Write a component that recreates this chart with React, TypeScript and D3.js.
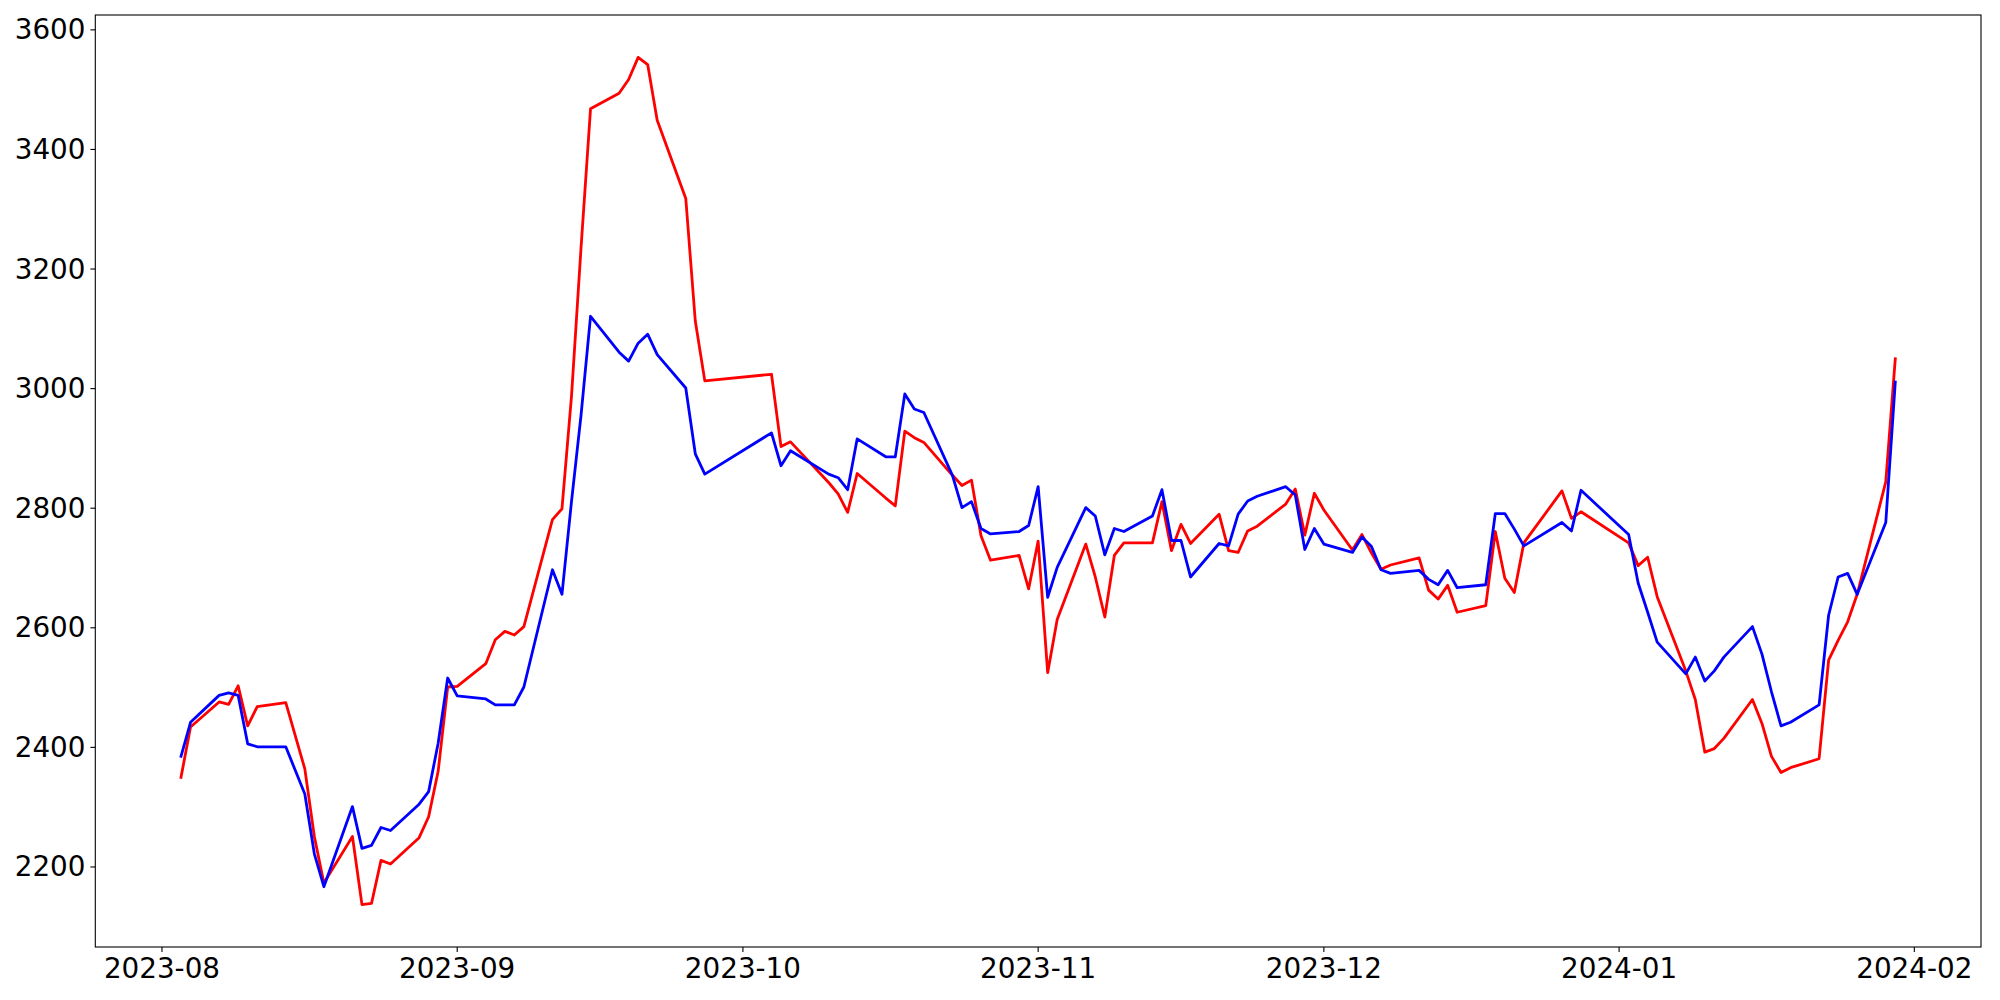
import React from "react";
import * as d3 from "d3";

// Trading days (Aug 2023 – Jan 2024)
const dates: string[] = [
  "2023-08-03","2023-08-04","2023-08-07","2023-08-08","2023-08-09","2023-08-10","2023-08-11","2023-08-14","2023-08-16","2023-08-17","2023-08-18","2023-08-21","2023-08-22","2023-08-23","2023-08-24","2023-08-25","2023-08-28","2023-08-29","2023-08-30","2023-08-31",
  "2023-09-01","2023-09-04","2023-09-05","2023-09-06","2023-09-07","2023-09-08","2023-09-11","2023-09-12","2023-09-13","2023-09-14","2023-09-15","2023-09-18","2023-09-19","2023-09-20","2023-09-21","2023-09-22","2023-09-25","2023-09-26","2023-09-27",
  "2023-10-04","2023-10-05","2023-10-06","2023-10-10","2023-10-11","2023-10-12","2023-10-13","2023-10-16","2023-10-17","2023-10-18","2023-10-19","2023-10-20","2023-10-23","2023-10-24","2023-10-25","2023-10-26","2023-10-27","2023-10-30","2023-10-31",
  "2023-11-01","2023-11-02","2023-11-03","2023-11-06","2023-11-07","2023-11-08","2023-11-09","2023-11-10","2023-11-13","2023-11-14","2023-11-15","2023-11-16","2023-11-17","2023-11-20","2023-11-21","2023-11-22","2023-11-23","2023-11-24","2023-11-27","2023-11-28","2023-11-29","2023-11-30",
  "2023-12-01","2023-12-04","2023-12-05","2023-12-06","2023-12-07","2023-12-08","2023-12-11","2023-12-12","2023-12-13","2023-12-14","2023-12-15","2023-12-18","2023-12-19","2023-12-20","2023-12-21","2023-12-22","2023-12-26","2023-12-27","2023-12-28",
  "2024-01-02","2024-01-03","2024-01-04","2024-01-05","2024-01-08","2024-01-09","2024-01-10","2024-01-11","2024-01-12","2024-01-15","2024-01-16","2024-01-17","2024-01-18","2024-01-19","2024-01-22","2024-01-23","2024-01-24","2024-01-25","2024-01-26","2024-01-29","2024-01-30",
];

const redValues: number[] = [
  2350,2434,2476,2472,2503,2436,2468,2475,2364,2251,2173,2251,2137,2139,2211,2205,2249,2284,2360,2501,
  2502,2540,2580,2594,2588,2602,2781,2799,2987,3235,3468,3494,3517,3554,3542,3449,3318,3113,3013,
  3024,2903,2911,2843,2824,2793,2858,2817,2804,2929,2918,2910,2855,2838,2847,2754,2713,2721,2665,
  2745,2525,2614,2740,2685,2618,2721,2742,2742,2811,2729,2773,2741,2790,2729,2726,2762,2770,2807,2832,2755,2825,
  2797,2730,2756,2725,2698,2705,2717,2663,2648,2671,2626,2637,2761,2683,2659,2742,2829,2783,2794,
  2742,2704,2718,2652,2528,2480,2392,2398,2415,2480,2440,2385,2358,2366,2381,2546,2579,2610,2656,2844,3050,
];

const blueValues: number[] = [
  2385,2442,2487,2491,2487,2406,2401,2401,2322,2222,2167,2301,2231,2236,2266,2261,2305,2326,2407,2516,
  2486,2481,2471,2471,2471,2501,2697,2656,2811,2955,3121,3061,3046,3076,3091,3057,3001,2891,2857,
  2926,2871,2896,2857,2851,2831,2916,2886,2886,2991,2966,2960,2855,2801,2811,2766,2757,2761,2771,
  2836,2651,2701,2801,2787,2722,2766,2761,2787,2831,2746,2746,2685,2741,2737,2790,2812,2820,2836,2822,2731,2766,
  2740,2726,2752,2736,2697,2691,2696,2681,2672,2696,2667,2672,2791,2791,2765,2737,2776,2762,2830,
  2756,2675,2626,2576,2523,2551,2511,2528,2551,2602,2556,2493,2436,2442,2471,2621,2685,2691,2656,2776,3011,
];

const yTicks: number[] = [2200, 2400, 2600, 2800, 3000, 3200, 3400, 3600];

const W = 2000;
const H = 1000;
const M = { left: 95.3, right: 1981, top: 15, bottom: 947 };
const FONT = "DejaVu Sans";
const FS = 27.8;

export default function App() {
  const parse = d3.utcParse("%Y-%m-%d");
  const xs = dates.map((d) => parse(d) as Date);
  const [x0, x1] = d3.extent(xs) as [Date, Date];
  const xPad = (x1.getTime() - x0.getTime()) * 0.05;
  const x = d3
    .scaleUtc()
    .domain([new Date(x0.getTime() - xPad), new Date(x1.getTime() + xPad)])
    .range([M.left, M.right]);

  const all = redValues.concat(blueValues);
  const yMin = d3.min(all) as number;
  const yMax = d3.max(all) as number;
  const yPad = (yMax - yMin) * 0.05;
  const y = d3
    .scaleLinear()
    .domain([yMin - yPad, yMax + yPad])
    .range([M.bottom, M.top]);

  const line = d3
    .line<number>()
    .x((_, i) => x(xs[i]))
    .y((v) => y(v));

  const xTicks = x.ticks(d3.utcMonth.every(1) as any);
  const fmt = d3.utcFormat("%Y-%m");

  return (
    <svg
      width={W}
      height={H}
      style={{ position: "absolute", left: 0, top: 0, background: "#fff" }}
      fontFamily={FONT}
    >
      <rect x={0} y={0} width={W} height={H} fill="#fff" />
      <path d={line(redValues) || ""} fill="none" stroke="#ff0000" strokeWidth={2.8} strokeLinejoin="round" strokeLinecap="square" />
      <path d={line(blueValues) || ""} fill="none" stroke="#0000ff" strokeWidth={2.8} strokeLinejoin="round" strokeLinecap="square" />
      <rect
        x={M.left}
        y={M.top}
        width={M.right - M.left}
        height={M.bottom - M.top}
        fill="none"
        stroke="#000"
        strokeWidth={1.1}
      />
      {yTicks.map((t) => (
        <g key={"y" + t}>
          <line x1={M.left - 4.9} x2={M.left} y1={y(t)} y2={y(t)} stroke="#000" strokeWidth={1.1} />
          <text x={M.left - 9.8} y={y(t)} textAnchor="end" dominantBaseline="central" fontSize={FS} fill="#000">
            {t}
          </text>
        </g>
      ))}
      {xTicks.map((t) => (
        <g key={"x" + t.getTime()}>
          <line x1={x(t)} x2={x(t)} y1={M.bottom} y2={M.bottom + 4.9} stroke="#000" strokeWidth={1.1} />
          <text x={x(t)} y={M.bottom + 9.8} textAnchor="middle" dominantBaseline="hanging" fontSize={FS} fill="#000">
            {fmt(t)}
          </text>
        </g>
      ))}
    </svg>
  );
}
